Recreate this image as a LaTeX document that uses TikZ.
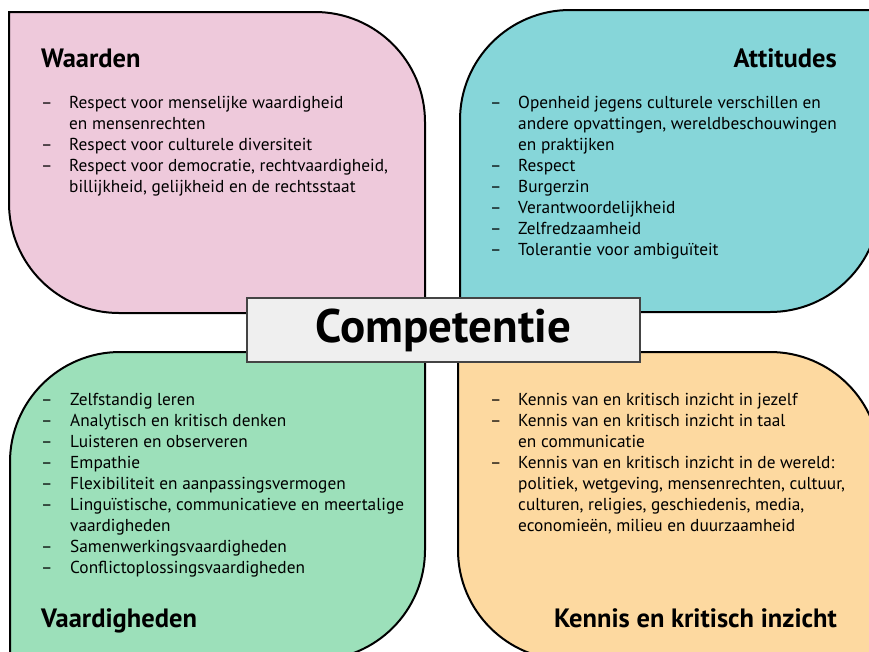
\documentclass[tikz,border=0pt]{standalone}
\usepackage{fontspec}
\setmainfont{PT Sans}
\definecolor{cpink}{HTML}{EEC9DB}
\definecolor{cteal}{HTML}{86D6D9}
\definecolor{cgreen}{HTML}{9CE0BA}
\definecolor{corange}{HTML}{FDD9A0}
\definecolor{cbox}{HTML}{EFEFEF}
\definecolor{cboxline}{HTML}{444444}
\begin{document}
\begin{tikzpicture}[x=1pt,y=-1pt,
  quad/.style={draw=black,line width=2pt},
  body/.style={anchor=base west,inner sep=0pt,font=\fontsize{17.3}{21}\selectfont},
  dsh/.style={anchor=base west,inner sep=0pt,font=\fontsize{17.3}{21}\selectfont},
  ttl/.style={inner sep=0pt,font=\fontsize{26.5}{30}\selectfont\bfseries},
  centre/.style={draw=cboxline,line width=1.2pt,fill=cbox,minimum width=393pt,minimum height=64pt,inner sep=0pt,font=\fontsize{47}{52}\selectfont\bfseries}]
\useasboundingbox (0,0) rectangle (869,651);
\clip (0,0) rectangle (869,651);
% pink: TR and BL rounded
\path[quad,fill=cpink] (9,12) -- (315,12) arc[start angle=-90,end angle=0,radius=110] -- (425,313) -- (119,313) arc[start angle=90,end angle=180,radius=110] -- cycle;
% teal: TL and BR rounded
\path[quad,fill=cteal] (570,10) -- (880,10) -- (880,202) arc[start angle=0,end angle=90,radius=110] -- (460,312) -- (460,120) arc[start angle=180,end angle=270,radius=110] -- cycle;
% green: TL and BR rounded
\path[quad,fill=cgreen] (120,352) -- (425,352) -- (425,550) arc[start angle=0,end angle=90,radius=110] -- (10,660) -- (10,462) arc[start angle=180,end angle=270,radius=110] -- cycle;
% orange: TR and BL rounded
\path[quad,fill=corange] (458,352) -- (770,352) arc[start angle=-90,end angle=0,radius=110] -- (880,660) -- (568,660) arc[start angle=90,end angle=180,radius=110] -- cycle;

% Waarden
\node[ttl,anchor=base west] (tw) at (41,67) {Waarden};
\node[dsh] (wd1) at (41,108) {–};
\node[body] (w1) at (69,108) {Respect voor menselijke waardigheid};
\node[body] (w2) at (69,129) {en mensenrechten};
\node[dsh] (wd3) at (41,150) {–};
\node[body] (w3) at (69,150) {Respect voor culturele diversiteit};
\node[dsh] (wd4) at (41,171) {–};
\node[body] (w4) at (69,171) {Respect voor democratie, rechtvaardigheid,};
\node[body] (w5) at (69,192) {billijkheid, gelijkheid en de rechtsstaat};

% Attitudes
\node[ttl,anchor=base east] (ta) at (837,67) {Attitudes};
\node[dsh] (ad1) at (490,108) {–};
\node[body] (a1) at (518,108) {Openheid jegens culturele verschillen en};
\node[body] (a2) at (518,129) {andere opvattingen, wereldbeschouwingen};
\node[body] (a3) at (518,150) {en praktijken};
\node[dsh] (ad4) at (490,171) {–};
\node[body] (a4) at (518,171) {Respect};
\node[dsh] (ad5) at (490,192) {–};
\node[body] (a5) at (518,192) {Burgerzin};
\node[dsh] (ad6) at (490,213) {–};
\node[body] (a6) at (518,213) {Verantwoordelijkheid};
\node[dsh] (ad7) at (490,234) {–};
\node[body] (a7) at (518,234) {Zelfredzaamheid};
\node[dsh] (ad8) at (490,255) {–};
\node[body] (a8) at (518,255) {Tolerantie voor ambiguïteit};

% Vaardigheden
\node[dsh] (vd1) at (41,405) {–};
\node[body] (v1) at (70,405) {Zelfstandig leren};
\node[dsh] (vd2) at (41,426) {–};
\node[body] (v2) at (70,426) {Analytisch en kritisch denken};
\node[dsh] (vd3) at (41,447) {–};
\node[body] (v3) at (70,447) {Luisteren en observeren};
\node[dsh] (vd4) at (41,468) {–};
\node[body] (v4) at (70,468) {Empathie};
\node[dsh] (vd5) at (41,489) {–};
\node[body] (v5) at (70,489) {Flexibiliteit en aanpassingsvermogen};
\node[dsh] (vd6) at (41,510) {–};
\node[body] (v6) at (70,510) {Linguïstische, communicatieve en meertalige};
\node[body] (v7) at (70,531) {vaardigheden};
\node[dsh] (vd8) at (41,552) {–};
\node[body] (v8) at (70,552) {Samenwerkingsvaardigheden};
\node[dsh] (vd9) at (41,573) {–};
\node[body] (v9) at (70,573) {Conflictoplossingsvaardigheden};
\node[ttl,anchor=base west] (tv) at (41,627) {Vaardigheden};

% Kennis
\node[dsh] (kd1) at (490,405) {–};
\node[body] (k1) at (518,405) {Kennis van en kritisch inzicht in jezelf};
\node[dsh] (kd2) at (490,426) {–};
\node[body] (k2) at (518,426) {Kennis van en kritisch inzicht in taal};
\node[body] (k3) at (518,447) {en communicatie};
\node[dsh] (kd4) at (490,468) {–};
\node[body] (k4) at (518,468) {Kennis van en kritisch inzicht in de wereld:};
\node[body] (k5) at (518,489) {politiek, wetgeving, mensenrechten, cultuur,};
\node[body] (k6) at (518,510) {culturen, religies, geschiedenis, media,};
\node[body] (k7) at (518,531) {economieën, milieu en duurzaamheid};
\node[ttl,anchor=base east] (tk) at (837,627) {Kennis en kritisch inzicht};

% centre
\node[centre] (comp) at (443.5,330) {Competentie};
\end{tikzpicture}
\end{document}
